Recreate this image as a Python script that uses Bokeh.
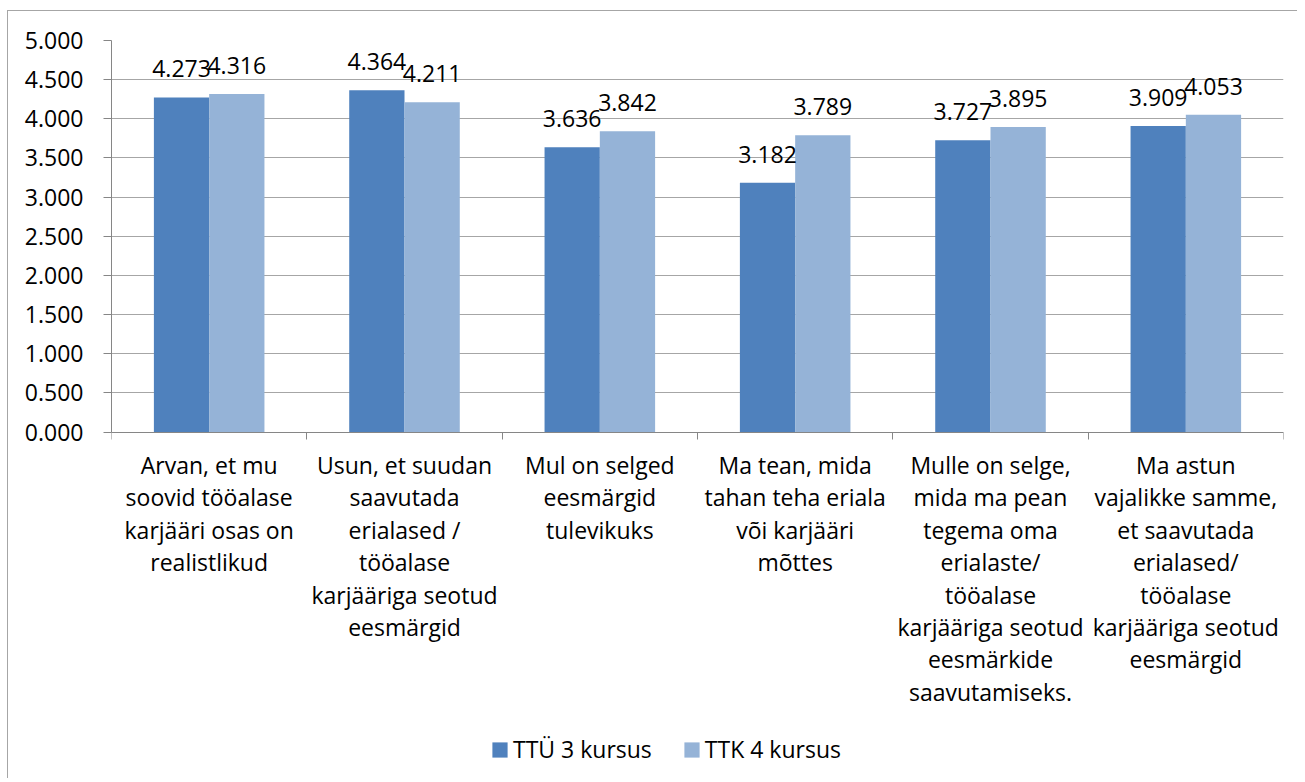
from bokeh.plotting import figure
from bokeh.models import (Range1d, FixedTicker, NumeralTickFormatter, LabelSet,
                          ColumnDataSource, Legend, LegendItem)
from bokeh.core.properties import value
from bokeh.transform import dodge
from bokeh.embed import file_html
from bokeh.resources import INLINE

categories = [
    "Arvan, et mu\nsoovid tööalase\nkarjääri osas on\nrealistlikud",
    "Usun, et suudan\nsaavutada\nerialased /\ntööalase\nkarjääriga seotud\neesmärgid",
    "Mul on selged\neesmärgid\ntulevikuks",
    "Ma tean, mida\ntahan teha eriala\nvõi karjääri\nmõttes",
    "Mulle on selge,\nmida ma pean\ntegema oma\nerialaste/\ntööalase\nkarjääriga seotud\neesmärkide\nsaavutamiseks.",
    "Ma astun\nvajalikke samme,\net saavutada\nerialased/\ntööalase\nkarjääriga seotud\neesmärgid",
]
series_names = ["TTÜ 3 kursus", "TTK 4 kursus"]
ttu_3 = [4.273, 4.364, 3.636, 3.182, 3.727, 3.909]
ttk_4 = [4.316, 4.211, 3.842, 3.789, 3.895, 4.053]
y_ticks = [0.0, 0.5, 1.0, 1.5, 2.0, 2.5, 3.0, 3.5, 4.0, 4.5, 5.0]

FONT = "Open Sans"
FS = "23px"
DARK = "#4F81BD"
LIGHT = "#95B3D7"
GRID = "#A6A6A6"
AXIS = "#868686"
Y_MIN = -4.31  # room below the axis for the category labels and legend
LINE_H = 32.4
FIRST_OFF = -17

n = len(categories)
centers = [i + 0.5 for i in range(n)]
src = ColumnDataSource(dict(
    x=centers, ttu=ttu_3, ttk=ttk_4,
    ttu_lbl=[f"{v:.3f}" for v in ttu_3], ttk_lbl=[f"{v:.3f}" for v in ttk_4],
))

# one row per line of each category label, so each line is centred
lx, ltxt, loff = [], [], []
for c, cat in zip(centers, categories):
    for k, line in enumerate(cat.split("\n")):
        lx.append(c)
        ltxt.append(line)
        loff.append(FIRST_OFF - LINE_H * k)
cat_src = ColumnDataSource(dict(x=lx, text=ltxt, zero=[0] * len(lx), yoff=loff))

p = figure(width=1290, height=768, output_backend="svg", toolbar_location=None,
           x_range=Range1d(0, n), y_range=Range1d(Y_MIN, 5),
           min_border_left=103, min_border_right=15, min_border_top=29, min_border_bottom=10)
p.styles = {"border-top": "1px solid #A6A6A6", "border-left": "1px solid #A6A6A6",
            "margin-top": "10px", "margin-left": "7px"}
p.outline_line_color = None
p.background_fill_color = "white"
p.border_fill_color = "white"

W = 0.283
r1 = p.vbar(x=dodge("x", -W / 2, range=p.x_range), top="ttu", width=W, source=src,
            fill_color=DARK, line_color=None)
r2 = p.vbar(x=dodge("x", W / 2, range=p.x_range), top="ttk", width=W, source=src,
            fill_color=LIGHT, line_color=None)

# value labels
for col, top_col, off in (("ttu_lbl", "ttu", -W / 2), ("ttk_lbl", "ttk", W / 2)):
    p.add_layout(LabelSet(x=dodge("x", off, range=p.x_range), y=top_col, text=col, source=src,
                          y_offset=20, text_align="center", text_baseline="alphabetic",
                          text_font=value(FONT), text_font_size=value(FS),
                          text_color=value("black")))

# category labels below the axis
p.add_layout(LabelSet(x="x", y="zero", text="text", source=cat_src, y_offset="yoff",
                      text_align="center", text_baseline="top",
                      text_font=value(FONT), text_font_size=value(FS),
                      text_color=value("black")))

# x axis sits at y = 0 inside the frame
p.xaxis.fixed_location = 0
p.xaxis.ticker = FixedTicker(ticks=list(range(n + 1)))
p.xaxis.major_label_overrides = {i: "" for i in range(n + 1)}
p.xaxis.major_label_text_font_size = "0px"
p.xaxis.major_label_standoff = 0
p.xaxis.major_tick_in = 0
p.xaxis.major_tick_out = 7
p.xaxis.minor_tick_line_color = None
p.xaxis.axis_line_color = AXIS
p.xaxis.major_tick_line_color = AXIS

p.yaxis.bounds = (0, 5)
p.yaxis.ticker = FixedTicker(ticks=y_ticks)
p.yaxis.formatter = NumeralTickFormatter(format="0.000")
p.yaxis.major_tick_in = 0
p.yaxis.major_tick_out = 8
p.yaxis.minor_tick_line_color = None
p.yaxis.axis_line_color = AXIS
p.yaxis.major_tick_line_color = AXIS
p.yaxis.major_label_text_font = FONT
p.yaxis.major_label_text_font_size = FS
p.yaxis.major_label_text_color = "black"
p.yaxis.major_label_standoff = 20

p.xgrid.grid_line_color = None
p.ygrid.grid_line_color = GRID
p.ygrid.ticker = FixedTicker(ticks=y_ticks)

legend = Legend(items=[LegendItem(label=series_names[0], renderers=[r1]),
                       LegendItem(label=series_names[1], renderers=[r2])],
                orientation="horizontal", location=(379, 4),
                border_line_alpha=0, background_fill_alpha=0, padding=0, margin=0,
                glyph_width=19, glyph_height=19, label_standoff=4, spacing=30,
                label_text_font=FONT, label_text_font_size=FS, label_text_color="black")
p.add_layout(legend)

open("out.html", "w").write(file_html(p, INLINE))
